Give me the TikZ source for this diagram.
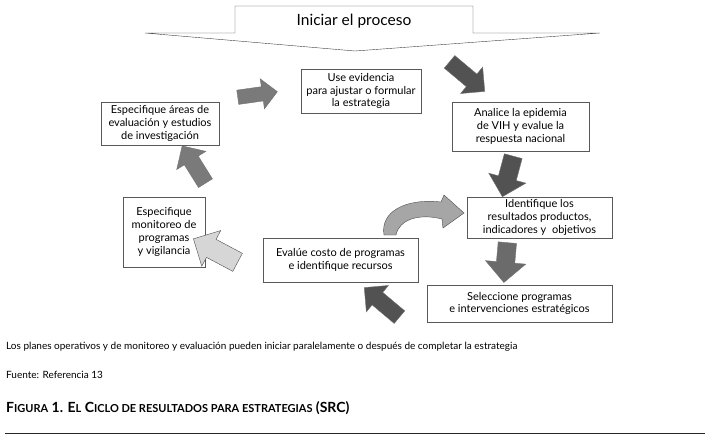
\documentclass[tikz,border=0pt]{standalone}
\usepackage{fontspec}
\setmainfont{Lato}
\usetikzlibrary{shapes.arrows,positioning,calc}
\newcommand\capsm[1]{{\fontsize{11}{13}\selectfont #1}}

\begin{document}
\begin{tikzpicture}[x=1pt,y=-1pt,
  stage/.style={draw=black!65,thin,fill=white,align=center,inner sep=1pt,font=\fontsize{11}{12.8}\selectfont},
  blk/.style={single arrow,draw=black!55,thin,inner xsep=0pt,inner ysep=7pt,single arrow head extend=8pt},
  darkarr/.style={blk,fill=black!68},
  midarr/.style={blk,fill=black!52},
  lightarr/.style={blk,fill=black!16,draw=black!70}]
\useasboundingbox (0,0) rectangle (707,439);
\draw[black!75,fill=white] (235,33) -- (235,6) -- (473,6) -- (473,33) -- (600,33) -- (355,51) -- (145,33) -- cycle;
\node[font=\fontsize{15.5}{18}\selectfont] (start) at (354,21) {Iniciar el proceso};
\node[stage,minimum width=120pt,minimum height=44pt] (evid) at (361,91) {Use evidencia\\para ajustar o formular\\la estrategia};
\node[stage,minimum width=137pt,minimum height=49pt] (analice) at (520.5,126.5) {Analice la epidemia\\de VIH y evalue la\\respuesta nacional};
\node[stage,minimum width=145pt,minimum height=41pt] (ident) at (539.5,217.5) {Identifique los\\resultados productos,\\indicadores y \ objetivos};
\node[stage,minimum width=185pt,minimum height=37pt] (selec) at (519.5,303.5) {Seleccione programas\\e intervenciones estratégicos};
\node[stage,minimum width=155pt,minimum height=44pt] (costo) at (340.5,260) {Evalúe costo de programas\\e identifique recursos};
\node[stage,minimum width=82pt,minimum height=70pt] (monit) at (164,232) {Especifique\\monitoreo de\\programas\\y vigilancia};
\node[stage,minimum width=118pt,minimum height=43pt] (areas) at (160,123.5) {Especifique áreas de\\evaluación y estudios\\de investigación};
\node[midarr,minimum height=40pt,rotate=8] (a1) at (254,95) {};
\node[darkarr,minimum height=46pt,inner ysep=8pt,single arrow head extend=9pt,rotate=-40] (a2) at (464,74) {};
\node[darkarr,minimum height=42pt,inner ysep=9pt,single arrow head extend=10pt,rotate=-105] (a3) at (509,172) {};
\node[blk,fill=black!58,minimum height=40pt,inner ysep=9pt,single arrow head extend=11pt,rotate=-95] (a4) at (506,258) {};
\node[darkarr,minimum height=46pt,inner ysep=8pt,single arrow head extend=9pt,rotate=140] (a5) at (385,305) {};
\node[lightarr,minimum height=50pt,inner ysep=10pt,single arrow head extend=10pt,rotate=152] (a6) at (220,253) {};
\node[midarr,minimum height=44pt,inner ysep=8pt,single arrow head extend=9pt,rotate=122] (a7) at (196,168) {};
\draw[black!70,fill=black!35] (384,235) .. controls (380,212) and (405,198) .. (441,202) -- (444,195) -- (464,213) -- (443,228) -- (442,219) .. controls (418,213) and (399,220) .. (396,235) -- cycle;
\node[anchor=base west,inner sep=0pt,font=\fontsize{10}{12}\selectfont] (note) at (6,349) {Los planes operativos y de monitoreo y evaluación pueden iniciar paralelamente o después de completar la estrategia};
\node[anchor=base west,inner sep=0pt,font=\fontsize{10}{12}\selectfont] (src) at (6,378) {Fuente: Referencia 13};
\node[anchor=base west,inner sep=0pt,font=\bfseries\fontsize{14}{16}\selectfont] (cap) at (6,412) {F\capsm{IGURA} 1. E\capsm{L} C\capsm{ICLO DE RESULTADOS PARA ESTRATEGIAS} (SRC)};
\coordinate (rl) at (5,433);
\coordinate (rr) at (705,433);
\draw[black!85,line width=0.8pt] (rl) -- (rr);
\end{tikzpicture}
\end{document}
